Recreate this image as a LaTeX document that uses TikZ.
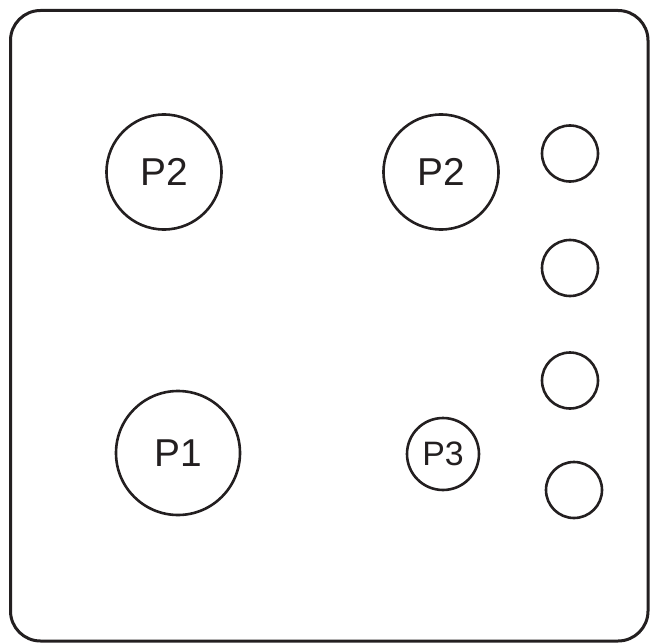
\documentclass[tikz,border=0pt]{standalone}
\usepackage{fontspec}
\setmainfont{Liberation Sans}
\usetikzlibrary{positioning}
\definecolor{inkcolor}{RGB}{35, 31, 32}

\begin{document}
\begin{tikzpicture}[
    x=1bp, y=-1bp,
    % Styles
    panel/.style={
        rectangle,
        rounded corners=30bp,
        draw=inkcolor,
        line width=3bp
    },
    bigport/.style={
        circle,
        draw=inkcolor,
        line width=2.6bp,
        inner sep=0pt,
        minimum size=#1,
        text=inkcolor,
        font=\fontsize{39}{41}\selectfont
    },
    smallport/.style={
        circle,
        draw=inkcolor,
        line width=2.6bp,
        inner sep=0pt,
        minimum size=#1,
        text=inkcolor,
        font=\fontsize{34}{36}\selectfont
    },
    led/.style={
        circle,
        draw=inkcolor,
        line width=2.6bp,
        inner sep=0pt,
        minimum size=56bp
    }
]
\useasboundingbox (0,0) rectangle (650,643);

% --- Outer Panel ---
\draw [panel] (10.5,10.5) rectangle (648,641);

% --- Ports ---
\node (p2_left) [bigport=115bp] at (164,172) {P2};
\node (p2_right) [bigport=115bp] at (441,172) {P2};
\node (p1) [bigport=124bp] at (178,453) {P1};
\node (p3) [smallport=72bp] at (443,454) {P3};

% --- Indicator Column ---
\node (led1) [led] at (570,153.5) {};
\node (led2) [led] at (570,268) {};
\node (led3) [led] at (570,380.5) {};
\node (led4) [led] at (574,490) {};

\end{tikzpicture}
\end{document}
